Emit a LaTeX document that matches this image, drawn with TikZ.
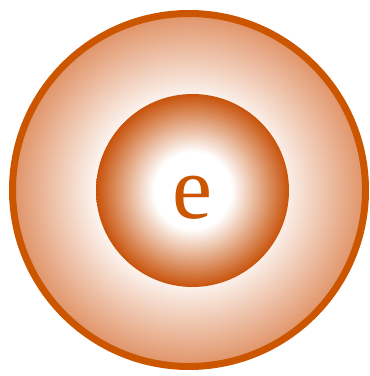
\documentclass[tikz,border=0pt]{standalone}
\usepackage{fontspec}
\setmainfont{Liberation Serif}
\definecolor{rim}{RGB}{204,85,0}
\definecolor{outeredge}{RGB}{224,146,102}
\definecolor{inneredge}{RGB}{200,82,10}
\pgfdeclareradialshading{outershade}{\pgfpoint{0bp}{0bp}}{color(0bp)=(white); color(12bp)=(white); color(25bp)=(outeredge); color(50bp)=(outeredge)}
\pgfdeclareradialshading{innershade}{\pgfpoint{0bp}{0bp}}{color(0bp)=(white); color(10bp)=(white); color(25bp)=(inneredge); color(50bp)=(inneredge)}
\begin{document}
\begin{tikzpicture}[x=1pt,y=1pt,
  shell/.style={circle, shading=outershade, draw=rim, line width=7pt, minimum size=353pt, inner sep=0pt},
  core/.style={circle, shading=innershade, minimum size=193pt, inner sep=0pt},
  label/.style={text=rim, inner sep=0pt, font=\rmfamily\fontsize{90}{90}\selectfont}]
\useasboundingbox (0,0) rectangle (370,376);
\node[shell] (outer) at (189,186) {};
\node[core] (inner) at (192.5,185.5) {};
\node[label] (e) at (192.5,178) {\textrm{e}};
\end{tikzpicture}
\end{document}
